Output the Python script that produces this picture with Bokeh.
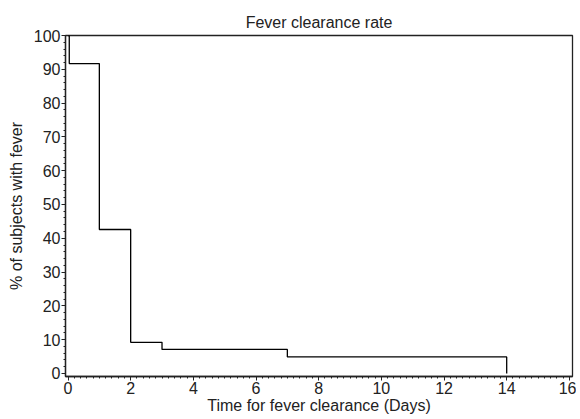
from bokeh.plotting import figure
from bokeh.models import SingleIntervalTicker, Range1d
from bokeh.embed import file_html
from bokeh.resources import INLINE

# Kaplan-Meier style step data (time in days, % with fever)
times = [0, 0.04, 1, 2, 3, 7, 14]
percent = [100, 91.7, 42.6, 9.2, 7.1, 4.9, 0]

# Build step path from data
xs, ys = [times[0]], [percent[0]]
for i in range(1, len(times)):
    xs.append(times[i]); ys.append(percent[i - 1])
    xs.append(times[i]); ys.append(percent[i])

FONT = "Liberation Sans"

p = figure(width=576, height=419, output_backend="svg", toolbar_location=None,
           x_range=Range1d(-0.08, 16.1), y_range=Range1d(-0.9, 100),
           min_border_left=65, min_border_right=4, min_border_top=35,
           min_border_bottom=43)

p.title.text = "Fever clearance rate"
p.title.align = "center"
p.title.text_font = FONT
p.title.text_font_size = "16px"
p.title.text_font_style = "normal"
p.title.text_color = "#222222"

p.line(xs, ys, line_color="black", line_width=1.3)

p.xgrid.visible = False
p.ygrid.visible = False
p.outline_line_color = "#222222"
p.outline_line_width = 1.3

p.xaxis.ticker = SingleIntervalTicker(interval=2, num_minor_ticks=10)
p.yaxis.ticker = SingleIntervalTicker(interval=10, num_minor_ticks=5)

for ax in (p.xaxis[0], p.yaxis[0]):
    ax.axis_line_color = "#222222"
    ax.axis_line_width = 1.3
    ax.major_tick_line_color = "#222222"
    ax.minor_tick_line_color = "#222222"
    ax.major_tick_in = 0
    ax.major_tick_out = 4
    ax.minor_tick_in = 0
    ax.minor_tick_out = 2
    ax.major_label_text_font = FONT
    ax.major_label_text_font_size = "16px"
    ax.major_label_text_color = "#222222"
    ax.axis_label_text_font = FONT
    ax.axis_label_text_font_size = "16px"
    ax.axis_label_text_font_style = "normal"
    ax.axis_label_text_color = "#222222"

p.xaxis.axis_label = "Time for fever clearance (Days)"
p.yaxis.axis_label = "% of subjects with fever"
p.xaxis.major_label_standoff = 1
p.yaxis.major_label_standoff = 1
p.xaxis.axis_label_standoff = 0
p.yaxis.axis_label_standoff = 6

open("out.html", "w").write(file_html(p, INLINE))
